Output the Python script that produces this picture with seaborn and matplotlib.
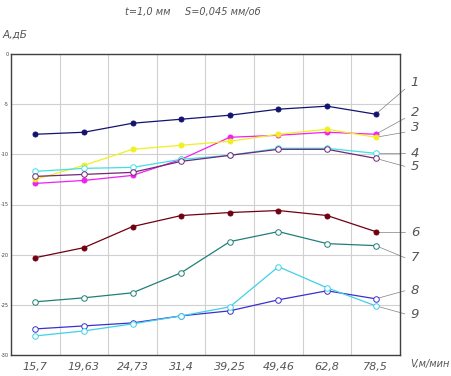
import numpy as np
import pandas as pd
import matplotlib
matplotlib.use("Agg")
import matplotlib.pyplot as plt
import seaborn as sns

categories = ["15,7", "19,63", "24,73", "31,4", "39,25", "49,46", "62,8", "78,5"]

s1 = [-8.0, -7.8, -6.9, -6.5, -6.1, -5.5, -5.2, -6.0]
s2 = [-12.9, -12.6, -12.1, -10.5, -8.3, -8.1, -7.8, -8.0]
s3 = [-12.5, -11.1, -9.5, -9.1, -8.7, -8.0, -7.5, -8.3]
s4 = [-11.7, -11.4, -11.3, -10.5, -10.1, -9.4, -9.4, -9.9]
s5 = [-12.2, -12.0, -11.8, -10.7, -10.1, -9.5, -9.5, -10.4]
s6 = [-20.3, -19.3, -17.2, -16.1, -15.8, -15.6, -16.1, -17.7]
s7 = [-24.7, -24.3, -23.8, -21.8, -18.7, -17.7, -18.9, -19.1]
s8 = [-27.4, -27.1, -26.8, -26.1, -25.6, -24.5, -23.6, -24.4]
s9 = [-28.1, -27.6, -26.9, -26.1, -25.2, -21.2, -23.3, -25.1]

series_names = ["1", "2", "3", "4", "5", "6", "7", "8", "9"]
series_vals = [s1, s2, s3, s4, s5, s6, s7, s8, s9]
colors = ["#141470", "#f020f0", "#f0f020", "#40e0e8", "#702878",
          "#700010", "#208078", "#3a30d0", "#40d0e8"]
filled = [True, True, True, False, False, True, False, False, False]
label_y = [-2.8, -5.8, -7.3, -9.9, -11.2, -17.8, -20.3, -23.6, -26.0]
leader_y = [-3.5, -6.4, -7.8, -9.9, -11.2, -17.7, -20.3, -23.6, -25.9]

yticks = [0, -5, -10, -15, -20, -25, -30]

sns.set_theme(style="white")
plt.rcParams['font.family'] = ['DejaVu Sans']

fig = plt.figure(figsize=(4.52, 3.76), dpi=100)
ax = fig.add_axes([11 / 452, 21 / 376, 389 / 452, 301 / 376])

pos = np.arange(len(categories))
for name, vals, c, f in zip(series_names, series_vals, colors, filled):
    df = pd.DataFrame({"x": pos, "y": vals})
    sns.lineplot(data=df, x="x", y="y", ax=ax, color=c, lw=0.9,
                 marker="o", markersize=3.6 if f else 4.0,
                 markerfacecolor=c if f else "white",
                 markeredgecolor=c, markeredgewidth=0.7)

txt = dict(fontstyle="italic", color="#555555")
ax.set_xlim(-0.5, 7.5)
ax.set_ylim(-30, 0)
ax.set_xticks(pos)
ax.set_xticklabels(categories, fontsize=8, **txt)
ax.set_yticks(yticks)
ax.set_yticklabels([str(v) for v in yticks], fontsize=3.5, color="#404040")
ax.tick_params(axis="both", length=0)
ax.tick_params(axis="y", pad=1.5)
ax.tick_params(axis="x", pad=5)
ax.set_xticks(np.arange(-0.5, 8, 1), minor=True)
ax.tick_params(axis="x", which="minor", length=0)
ax.grid(False)
ax.grid(True, which="minor", axis="x", color="#d0d0d0", lw=0.8)
ax.grid(True, which="major", axis="y", color="#d0d0d0", lw=0.8)
ax.set_xlabel("")
ax.set_ylabel("")
for sp in ax.spines.values():
    sp.set_color("#404040")
    sp.set_linewidth(1.0)

# leader lines and series numbers
for name, vals, ly, ldy in zip(series_names, series_vals, label_y, leader_y):
    ax.plot([7, 7.6], [vals[-1], ldy], color="#808080", lw=0.5, clip_on=False, zorder=1)
    ax.text(7.72, ly, name, fontsize=9.5, ha="left", va="center", clip_on=False, **txt)

fig.text(410 / 452, 12 / 376, "V,м/мин", fontsize=7, ha="left", va="center", **txt)
fig.text(3 / 452, 1 - 35 / 376, "A,дБ", fontsize=7.5, ha="left", va="center", **txt)
fig.text(125 / 452, 1 - 12 / 376, "t=1,0 мм", fontsize=7,
         ha="left", va="center", **txt)
fig.text(185 / 452, 1 - 12 / 376, "S=0,045 мм/об", fontsize=7,
         ha="left", va="center", **txt)

fig.savefig("out.png", dpi=100, facecolor="white")
